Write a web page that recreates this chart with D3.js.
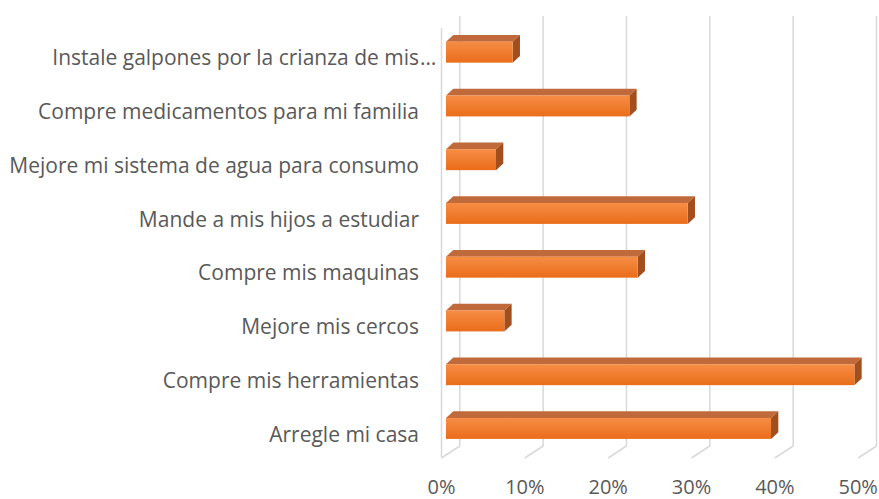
<!DOCTYPE html>
<html>
<head>
<meta charset="utf-8">
<script src="https://cdn.jsdelivr.net/npm/d3@7"></script>
<style>
body{margin:0;background:#fff}
text{font-family:"Open Sans", "Liberation Sans", sans-serif;fill:#595959}
</style>
</head>
<body>
<script>
// categories top to bottom, values as shares
const categories = [
    "Instale galpones por la crianza de mis…",
    "Compre medicamentos para mi familia",
    "Mejore mi sistema de agua para consumo",
    "Mande a mis hijos a estudiar",
    "Compre mis maquinas",
    "Mejore mis cercos",
    "Compre mis herramientas",
    "Arregle mi casa"
]
const values = [0.08, 0.22, 0.06, 0.29, 0.23, 0.07, 0.49, 0.39]
const ticks = [0, 0.1, 0.2, 0.3, 0.4, 0.5]

let w = 879
let h = 499
// depth of the 3d box (floor/walls) and of the bars
let dx = 18.3, dy = -12
let bdx = 7.3, bdy = -6.7
let ox = 4.5, oy = -2.7

let svg = d3.select("body")
    .append("svg")
    .attr("width", w)
    .attr("height", h)

let xScale = d3.scaleLinear()
    .domain([0, 0.5])
    .range([441.5, 858.2])
let yScale = d3.scaleBand()
    .domain(categories)
    .range([28, 458])
    .paddingInner(0.61)
    .paddingOuter(0.305)
let bw = yScale.bandwidth()
let plotTop = yScale.range()[0], plotBottom = yScale.range()[1]

let grad = svg.append("defs").append("linearGradient")
    .attr("id", "face")
    .attr("x1", 0).attr("y1", 0).attr("x2", 0).attr("y2", 1)
grad.append("stop").attr("offset", "0%").attr("stop-color", "#f68d45")
grad.append("stop").attr("offset", "100%").attr("stop-color", "#ea6d1a")

// back wall gridlines + floor diagonals
let grid = svg.append("g")
    .attr("fill", "none")
    .attr("stroke", "#d9d9d9")
    .attr("stroke-width", 1.5)
grid.selectAll("path")
    .data(ticks)
    .enter()
    .append("path")
    .attr("d", t => `M${xScale(t)+dx},${plotTop+dy}V${plotBottom+dy}L${xScale(t)},${plotBottom}`)
// left wall front edge
grid.append("line")
    .attr("x1", xScale(0)).attr("x2", xScale(0))
    .attr("y1", plotTop).attr("y2", plotBottom)

let bars = svg.selectAll(".bar")
    .data(categories.map((c, i) => ({c: c, v: values[i]})))
    .enter()
    .append("g")
    .attr("class", "bar")

bars.append("path")
    .attr("fill", "#c06a3c")
    .attr("d", d => {
        let x0 = xScale(0)+ox, x1 = xScale(d.v)+ox, y0 = yScale(d.c)+oy
        return `M${x0},${y0}L${x0+bdx},${y0+bdy}H${x1+bdx}L${x1},${y0}Z`
    })
bars.append("path")
    .attr("fill", "#a24f1d")
    .attr("d", d => {
        let x1 = xScale(d.v)+ox, y0 = yScale(d.c)+oy
        return `M${x1},${y0}L${x1+bdx},${y0+bdy}V${y0+bdy+bw}L${x1},${y0+bw}Z`
    })
bars.append("rect")
    .attr("fill", "url(#face)")
    .attr("x", xScale(0)+ox)
    .attr("y", d => yScale(d.c)+oy)
    .attr("width", d => xScale(d.v)-xScale(0))
    .attr("height", bw)

// category labels
let lx = 419
svg.selectAll(".cat")
    .data(categories)
    .enter()
    .append("text")
    .attr("class", "cat")
    .attr("font-size", 21)
    .attr("text-anchor", "end")
    .attr("x", lx)
    .attr("y", c => yScale(c)+bw/2+10.5)
    .each(function(c){
        let t = d3.select(this)
        if(c.endsWith("…")){
            t.text(c.slice(0, -1))
            t.append("tspan").attr("x", lx+1).attr("text-anchor", "start").text("…")
        } else {
            t.text(c)
        }
    })

// value axis labels
svg.selectAll(".tick")
    .data(ticks)
    .enter()
    .append("text")
    .attr("class", "tick")
    .attr("font-size", 20)
    .attr("text-anchor", "middle")
    .attr("x", t => xScale(t))
    .attr("y", 494)
    .text(d3.format(".0%"))
</script>
</body>
</html>
